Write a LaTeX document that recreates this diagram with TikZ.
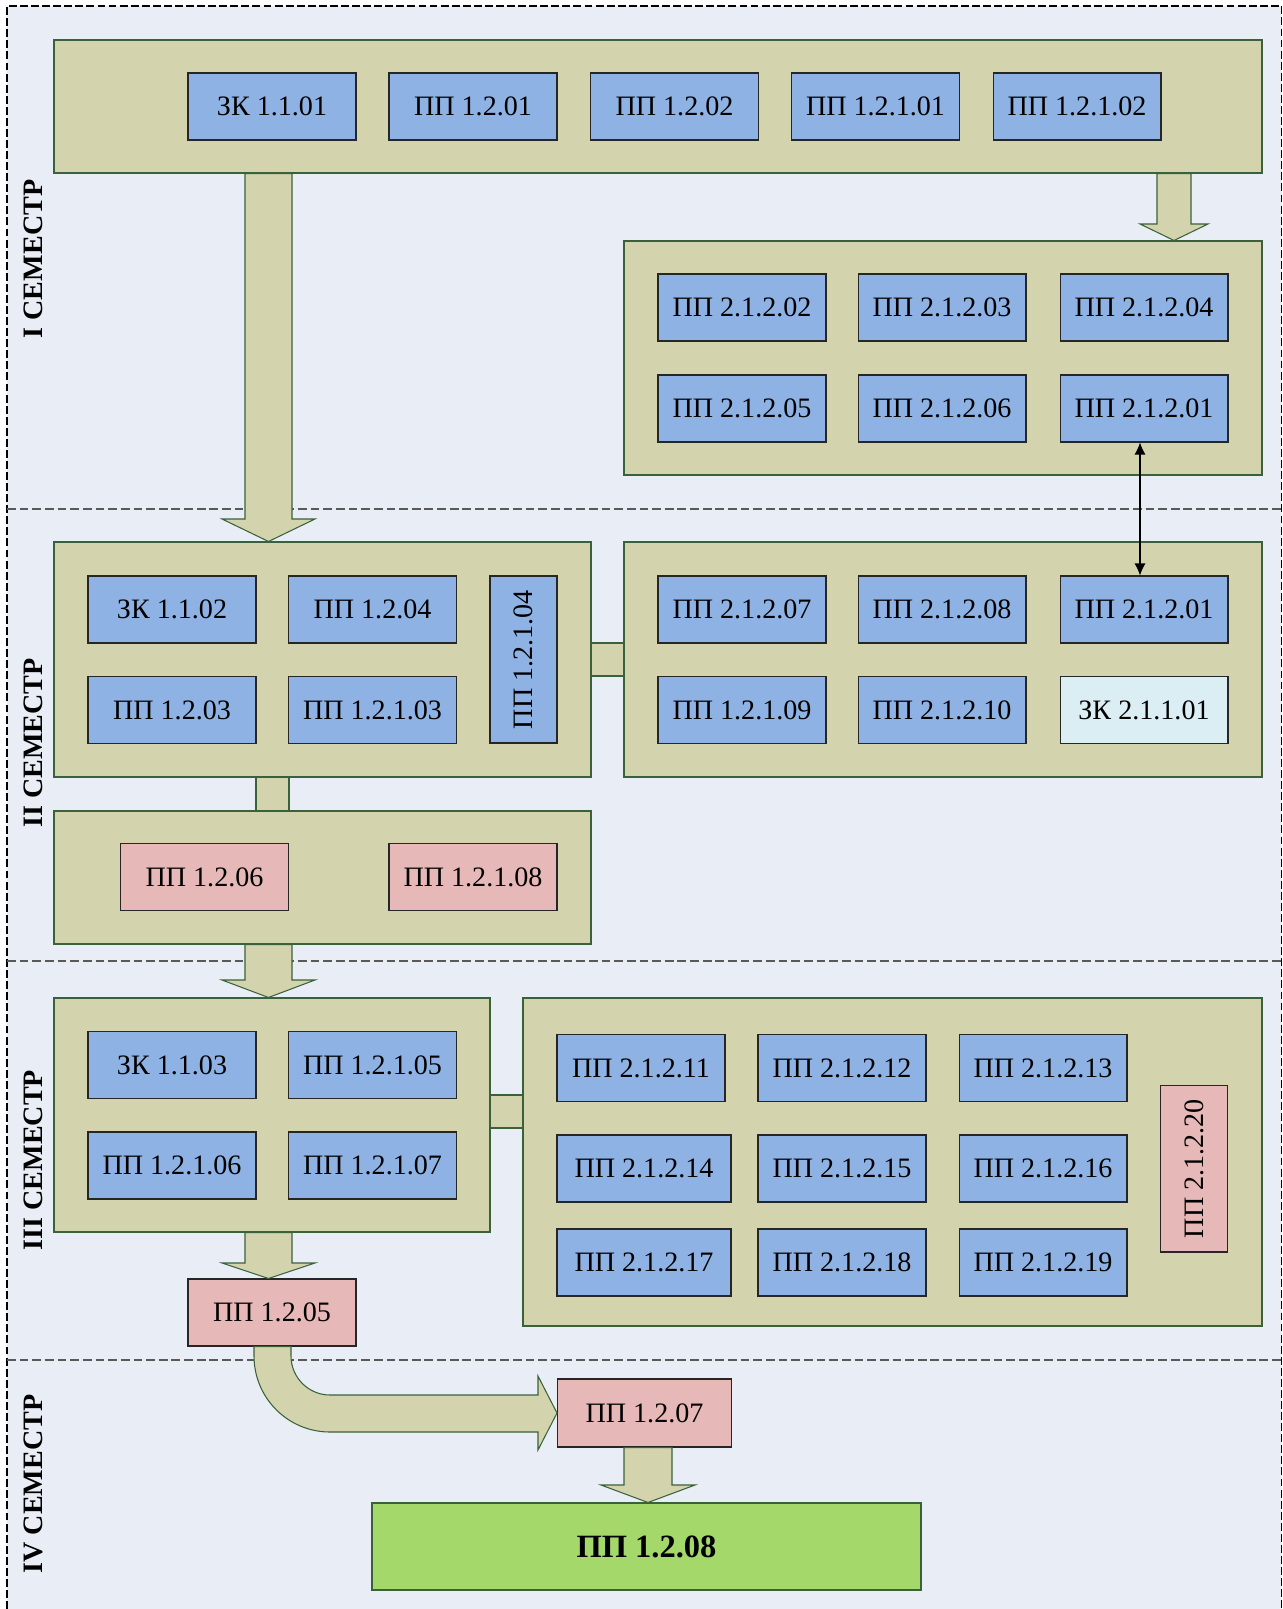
\documentclass[tikz,border=0pt]{standalone}
\usepackage{fontspec}
\setmainfont{Liberation Serif}
\usetikzlibrary{fit,arrows.meta}

\definecolor{sembg}{RGB}{233,238,246}
\definecolor{khaki}{RGB}{211,211,173}
\definecolor{khakiline}{RGB}{58,98,58}
\definecolor{unitblue}{RGB}{141,178,227}
\definecolor{unitpink}{RGB}{230,184,183}
\definecolor{unitpale}{RGB}{219,238,243}
\definecolor{unitgreen}{RGB}{164,216,107}

\begin{document}
\begin{tikzpicture}[x=0.02cm,y=-0.02cm,
  block/.style={draw=khakiline,fill=khaki,line width=0.6pt,inner sep=0pt},
  unit/.style={draw=black!85,fill=unitblue,line width=0.6pt,inner sep=0pt,
    minimum width=3.36cm,minimum height=1.34cm,font=\fontsize{16}{19}\selectfont},
  unitw/.style={unit,minimum width=3.48cm},
  unitv/.style={unit,minimum width=3.34cm,minimum height=1.34cm,rotate=90},
  practice/.style={fill=unitpink},
  semlabel/.style={font=\bfseries\fontsize{16}{19}\selectfont,rotate=90}]
  \useasboundingbox (0,0) rectangle (1283,1609);
  \begin{scope}
    \fill[sembg] (7,6) rectangle (1281.5,1609);
    \path[draw,line width=0.6pt,dash pattern=on 4.5pt off 1.8pt]
      (7,1609) -- (7,6) -- (1281.5,6) -- (1281.5,1609);
    \path[draw,gray!70!black,line width=0.6pt,dash pattern=on 5pt off 2.2pt] (7,509) -- (1281.5,509);
    \path[draw,gray!70!black,line width=0.6pt,dash pattern=on 5pt off 2.2pt] (7,961) -- (1281.5,961);
    \path[draw,gray!70!black,line width=0.6pt,dash pattern=on 5pt off 2.2pt] (7,1360) -- (1281.5,1360);

    \node[semlabel] (sem1) at (33,259) {I СЕМЕСТР};
    \node[semlabel] (sem2) at (33,743) {II СЕМЕСТР};
    \node[semlabel] (sem3) at (33,1160) {III СЕМЕСТР};
    \node[semlabel] (sem4) at (33,1484) {IV СЕМЕСТР};

    \node[block,fit={(54,40) (1262,173)}] (sem1top) {};
    \node[block,fit={(624,241) (1262,475)}] (sem1right) {};
    \node[block,fit={(54,542) (591,777)}] (sem2left) {};
    \node[block,fit={(624,542) (1262,777)}] (sem2right) {};
    \node[block,fit={(54,811) (591,944)}] (sem2low) {};
    \node[block,fit={(54,998) (490,1232)}] (sem3left) {};
    \node[block,fit={(523,998) (1262,1326)}] (sem3right) {};

    \path[draw,block] (245,0 |- sem1top.south) -- (245,519) -- (222,519) -- (268.5,0 |- sem2left.north)
      -- (315,519) -- (292,519) -- (292,0 |- sem1top.south) -- cycle;
    \path[draw,block] (1157,0 |- sem1top.south) -- (1157,224) -- (1140,224) -- (1174,0 |- sem1right.north)
      -- (1208,224) -- (1191,224) -- (1191,0 |- sem1top.south) -- cycle;
    \path[draw,block] (sem2left.east |- 0,643) rectangle (sem2right.west |- 0,676);
    \path[draw,block] (256,0 |- sem2left.south) rectangle (289,0 |- sem2low.north);
    \path[draw,block] (245,0 |- sem2low.south) -- (245,980) -- (222,980) -- (268.5,0 |- sem3left.north)
      -- (315,980) -- (292,980) -- (292,0 |- sem2low.south) -- cycle;
    \path[draw,block] (sem3left.east |- 0,1095) rectangle (sem3right.west |- 0,1128);

    \node[unit] (zk1101) at (272,106.5) {ЗК 1.1.01};
    \node[unit] (pp1201) at (473,106.5) {ПП 1.2.01};
    \node[unit] (pp1202) at (674.5,106.5) {ПП 1.2.02};
    \node[unit] (pp12101) at (875.5,106.5) {ПП 1.2.1.01};
    \node[unit] (pp12102) at (1077,106.5) {ПП 1.2.1.02};

    \node[unit] (pp21202) at (742,307.5) {ПП 2.1.2.02};
    \node[unit] (pp21203) at (942,307.5) {ПП 2.1.2.03};
    \node[unit] (pp21204) at (1144,307.5) {ПП 2.1.2.04};
    \node[unit] (pp21205) at (742,408.5) {ПП 2.1.2.05};
    \node[unit] (pp21206) at (942,408.5) {ПП 2.1.2.06};
    \node[unit] (pp21201a) at (1144,408.5) {ПП 2.1.2.01};

    \node[unit] (zk1102) at (172,609.5) {ЗК 1.1.02};
    \node[unit] (pp1204) at (372.5,609.5) {ПП 1.2.04};
    \node[unit] (pp1203) at (172,710) {ПП 1.2.03};
    \node[unit] (pp12103) at (372.5,710) {ПП 1.2.1.03};
    \node[unitv] (pp12104) at (523.5,659.5) {ПП 1.2.1.04};

    \node[unit] (pp21207) at (742,609.5) {ПП 2.1.2.07};
    \node[unit] (pp21208) at (942,609.5) {ПП 2.1.2.08};
    \node[unit] (pp21201b) at (1144,609.5) {ПП 2.1.2.01};
    \node[unit] (pp12109) at (742,710) {ПП 1.2.1.09};
    \node[unit] (pp21210) at (942,710) {ПП 2.1.2.10};
    \node[unit,fill=unitpale] (zk21101) at (1144,710) {ЗК 2.1.1.01};

    \path[draw,line width=0.6pt,{Latex[length=2.4mm,width=2.2mm]}-{Latex[length=2.4mm,width=2.2mm]}]
      ([xshift=-0.08cm]pp21201a.south) -- ([xshift=-0.08cm]pp21201b.north);

    \node[unit,practice] (pp1206) at (204.5,877) {ПП 1.2.06};
    \node[unit,practice] (pp12108) at (473,877) {ПП 1.2.1.08};

    \node[unit] (zk1103) at (172,1065) {ЗК 1.1.03};
    \node[unit] (pp12105) at (372.5,1065) {ПП 1.2.1.05};
    \node[unit] (pp12106) at (172,1165.5) {ПП 1.2.1.06};
    \node[unit] (pp12107) at (372.5,1165.5) {ПП 1.2.1.07};

    \node[unit] (pp21211) at (641,1068) {ПП 2.1.2.11};
    \node[unit] (pp21212) at (842,1068) {ПП 2.1.2.12};
    \node[unit] (pp21213) at (1043,1068) {ПП 2.1.2.13};
    \node[unitw] (pp21214) at (644,1168.5) {ПП 2.1.2.14};
    \node[unit] (pp21215) at (842,1168.5) {ПП 2.1.2.15};
    \node[unit] (pp21216) at (1043,1168.5) {ПП 2.1.2.16};
    \node[unitw] (pp21217) at (644,1262.5) {ПП 2.1.2.17};
    \node[unit] (pp21218) at (842,1262.5) {ПП 2.1.2.18};
    \node[unit] (pp21219) at (1043,1262.5) {ПП 2.1.2.19};
    \node[unitv,practice] (pp21220) at (1194,1168.5) {ПП 2.1.2.20};

    \node[unit,practice] (pp1205) at (272,1312.5) {ПП 1.2.05};
    \node[unitw,practice,minimum height=1.36cm] (pp1207) at (644.5,1413) {ПП 1.2.07};
    \node[draw=khakiline,fill=unitgreen,line width=0.6pt,inner sep=0pt,fit={(372,1503) (921,1590)}] (pp1208box) {};
    \node[font=\bfseries\fontsize{18.5}{22}\selectfont] (pp1208) at (pp1208box.center) {ПП 1.2.08};

    \path[draw,block] (245,0 |- sem3left.south) -- (245,1263) -- (222,1263) -- (268.5,0 |- pp1205.north)
      -- (315,1263) -- (292,1263) -- (292,0 |- sem3left.south) -- cycle;
    \path[draw,block] (254,0 |- pp1205.south) -- (254,1356) .. controls (254,1398) and (288,1432) .. (330,1432)
      -- (538,1432) -- (538,1450) -- (pp1207.west) -- (538,1376) -- (538,1395) -- (330,1395)
      .. controls (308.5,1395) and (291,1377.5) .. (291,1356) -- (291,0 |- pp1205.south) -- cycle;
    \path[draw,block] (624,0 |- pp1207.south) -- (624,1485) -- (601,1485) -- (648,0 |- pp1208box.north)
      -- (695,1485) -- (672,1485) -- (672,0 |- pp1207.south) -- cycle;
  \end{scope}
\end{tikzpicture}
\end{document}
